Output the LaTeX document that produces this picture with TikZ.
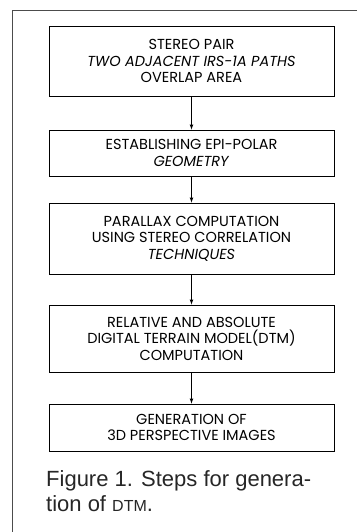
\documentclass[tikz,border=0pt]{standalone}
\usepackage{fontspec}
\setmainfont{Poppins}
\newfontfamily\captionfont{Liberation Sans}
\begin{document}
\begin{tikzpicture}[x=1pt,y=-1pt,
    stepbox/.style={draw, line width=0.8pt, minimum width=285pt, inner sep=0pt,
        align=center, font=\fontsize{14.5}{16.5}\selectfont},
    flow/.style={-latex, line width=0.7pt}]
    \useasboundingbox (0,0) rectangle (357,532);
    % Rahmen (oben und links)
    \draw[line width=0.8pt, black!70] (12,532) -- (12,10) -- (357,10);

    % Schritte
    \node[stepbox, minimum height=70pt] (pair) at (191.5,61)
        {STEREO PAIR\\ \textit{TWO ADJACENT IRS-1A PATHS}\\ OVERLAP AREA};
    \node[stepbox, minimum height=46pt] (epipolar) at (191.5,153)
        {ESTABLISHING EPI-POLAR\\ \textit{GEOMETRY}};
    \node[stepbox, minimum height=71pt] (parallax) at (191.5,238.5)
        {PARALLAX COMPUTATION\\ USING STEREO CORRELATION\\ \textit{TECHNIQUES}};
    \node[stepbox, minimum height=67pt] (dtm) at (191.5,338.5)
        {RELATIVE AND ABSOLUTE\\ DIGITAL TERRAIN MODEL(DTM)\\ COMPUTATION};
    \node[stepbox, minimum height=47pt] (persp) at (191.5,427.5)
        {GENERATION OF\\ 3D PERSPECTIVE IMAGES};

    % Pfeile
    \draw[flow] (pair) -- (epipolar);
    \draw[flow] (epipolar) -- (parallax);
    \draw[flow] (parallax) -- (dtm);
    \draw[flow] (dtm) -- (persp);

    % Bildunterschrift
    \node[anchor=north west, inner sep=0pt, align=left,
        font=\captionfont\fontsize{22}{25}\selectfont, text=black!85] (caption) at (46,470)
        {Figure 1. Steps for genera-\\ tion of {\fontsize{16}{25}\selectfont DTM}.};
\end{tikzpicture}
\end{document}
